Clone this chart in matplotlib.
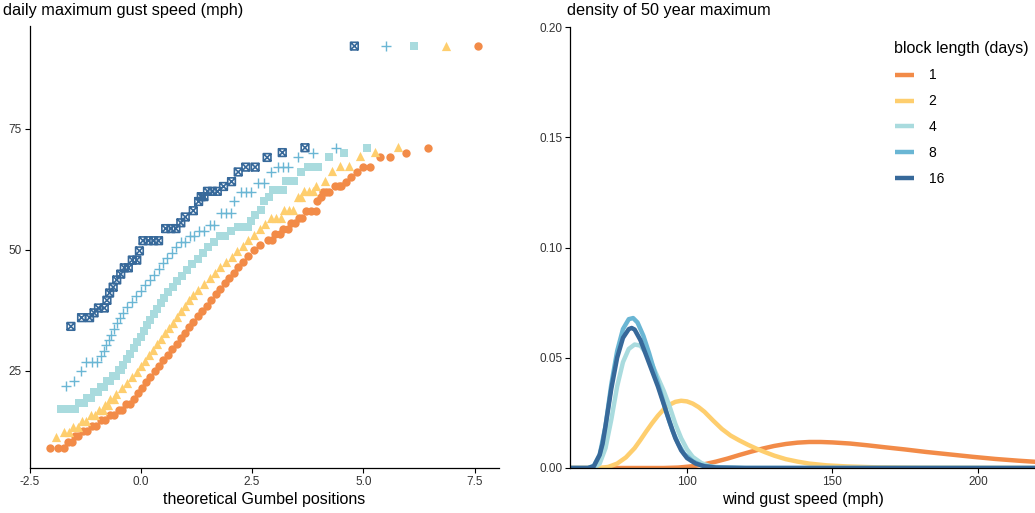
import matplotlib.pyplot as plt
from matplotlib.path import Path
from matplotlib.lines import Line2D
from matplotlib.ticker import FormatStrFormatter

plt.rcParams['font.family'] = ['Liberation Sans', 'DejaVu Sans']
plt.rcParams['axes.unicode_minus'] = False

block_labels = ["1", "2", "4", "8", "16"]
block_colors = ["#F28B48", "#FECE6E", "#A9DBDE", "#6AB6D4", "#37699A"]

# sorted daily maxima (mph) against their Gumbel plotting positions
gumbel_1 = [-2.03, -1.85, -1.72, -1.64, -1.55, -1.48, -1.40, -1.30, -1.20, -1.10, -1.00, -0.90, -0.80,
            -0.70, -0.60, -0.50, -0.42, -0.33, -0.25, -0.16, -0.06, 0.03, 0.12, 0.21, 0.31, 0.41, 0.51,
            0.61, 0.71, 0.81, 0.90, 1.00, 1.09, 1.18, 1.28, 1.38, 1.48, 1.58, 1.68, 1.79, 1.89, 1.99,
            2.09, 2.19, 2.30, 2.42, 2.55, 2.68, 2.85, 2.95, 3.02, 3.13, 3.20, 3.30, 3.38, 3.47, 3.55,
            3.62, 3.72, 3.83, 3.94, 3.97, 4.04, 4.10, 4.17, 4.24, 4.37, 4.45, 4.50, 4.62, 4.73, 4.86,
            5.00, 5.16, 5.37, 5.61, 5.95, 6.46, 7.57]
gust_1 = [9.1, 9.1, 9.1, 10.3, 10.3, 11.5, 11.5, 12.6, 12.6, 13.7, 13.7, 14.8, 14.8, 15.9, 15.9, 17.0,
          17.0, 18.2, 18.2, 19.3, 20.4, 21.5, 22.7, 23.8, 24.9, 26.1, 27.2, 28.3, 29.5, 30.6, 31.7, 32.9,
          34.0, 35.1, 36.3, 37.4, 38.5, 39.7, 40.8, 41.9, 43.1, 44.2, 45.3, 46.5, 47.6, 48.7, 49.9, 51.0,
          52.1, 52.1, 53.3, 53.3, 54.4, 54.4, 55.5, 55.5, 56.6, 56.6, 58.1, 58.1, 58.1, 60.1, 61.0, 62.0,
          62.0, 62.0, 63.1, 63.1, 63.1, 64.1, 65.1, 66.1, 67.1, 67.1, 69.1, 69.1, 70.1, 71.1, 92.1]

gumbel_2 = [-1.91, -1.73, -1.62, -1.52, -1.42, -1.32, -1.22, -1.12, -1.02, -0.93, -0.84, -0.80, -0.73,
            -0.68, -0.61, -0.55, -0.43, -0.31, -0.20, -0.09, 0.01, 0.10, 0.19, 0.28, 0.37, 0.45, 0.54,
            0.63, 0.72, 0.81, 0.90, 0.99, 1.08, 1.17, 1.29, 1.42, 1.55, 1.67, 1.79, 1.92, 2.05, 2.17,
            2.30, 2.42, 2.55, 2.68, 2.80, 2.93, 3.04, 3.15, 3.22, 3.32, 3.42, 3.53, 3.60, 3.67, 3.77,
            3.87, 3.94, 4.14, 4.30, 4.48, 4.67, 4.93, 5.26, 5.77, 6.85]
gust_2 = [11.3, 12.4, 12.4, 13.5, 13.5, 14.6, 14.6, 15.8, 15.8, 16.9, 16.9, 18.0, 18.0, 19.2, 19.2, 20.3,
          21.4, 22.6, 23.7, 24.8, 26.0, 27.1, 28.2, 29.4, 30.5, 31.6, 32.8, 33.9, 35.0, 36.2, 37.3, 38.4,
          39.6, 40.7, 41.8, 43.0, 44.1, 45.2, 46.4, 47.5, 48.6, 49.8, 50.9, 52.0, 53.1, 54.3, 55.4, 56.5,
          56.5, 56.5, 58.3, 58.3, 58.3, 61.0, 61.0, 62.2, 62.2, 62.2, 63.2, 64.3, 66.2, 67.4, 67.4, 69.3,
          70.3, 71.3, 92.1]

gumbel_4 = [-1.80, -1.62, -1.48, -1.38, -1.28, -1.20, -1.12, -1.05, -0.97, -0.90, -0.83, -0.76, -0.69,
            -0.62, -0.56, -0.50, -0.45, -0.40, -0.32, -0.24, -0.16, -0.08, 0.00, 0.07, 0.14, 0.21, 0.29,
            0.37, 0.45, 0.53, 0.62, 0.72, 0.82, 0.93, 1.04, 1.16, 1.28, 1.40, 1.52, 1.65, 1.78, 1.90,
            2.02, 2.18, 2.29, 2.40, 2.48, 2.56, 2.70, 2.78, 2.89, 2.97, 3.08, 3.19, 3.27, 3.36, 3.45,
            3.60, 3.75, 3.87, 3.98, 4.24, 4.56, 5.09, 6.15]
gust_4 = [17.1, 17.1, 17.1, 18.3, 18.3, 19.4, 19.4, 20.6, 20.6, 21.7, 21.7, 22.9, 22.9, 24.0, 24.0, 25.2,
          25.2, 26.3, 27.5, 28.6, 29.8, 30.9, 32.1, 33.2, 34.4, 35.5, 36.7, 37.8, 39.0, 40.1, 41.3, 42.4,
          43.6, 44.7, 45.9, 47.0, 48.2, 49.3, 50.5, 51.6, 52.8, 52.8, 53.9, 54.8, 54.8, 54.8, 56.0, 57.2,
          58.3, 60.0, 61.0, 62.3, 62.3, 62.3, 64.3, 64.3, 64.3, 66.1, 67.1, 67.1, 67.1, 69.1, 70.1, 71.1,
          92.1]

gumbel_8 = [-1.69, -1.50, -1.35, -1.22, -1.10, -0.98, -0.90, -0.83, -0.77, -0.71, -0.66, -0.60, -0.54,
            -0.47, -0.39, -0.30, -0.20, -0.10, 0.00, 0.10, 0.20, 0.30, 0.40, 0.50, 0.60, 0.70, 0.80,
            0.90, 1.00, 1.10, 1.20, 1.32, 1.43, 1.55, 1.65, 1.80, 1.92, 2.03, 2.10, 2.25, 2.37, 2.48,
            2.63, 2.78, 2.92, 3.08, 3.19, 3.30, 3.53, 3.88, 4.38, 5.50]
gust_8 = [21.9, 23.0, 24.9, 26.9, 26.9, 26.9, 28.0, 29.2, 30.3, 31.4, 32.5, 33.6, 34.8, 35.9, 37.0, 38.2,
          39.3, 40.4, 41.5, 42.7, 43.8, 44.9, 46.0, 47.2, 48.3, 49.4, 50.6, 51.7, 51.7, 52.8, 52.8, 54.0,
          54.0, 55.2, 55.2, 57.6, 57.6, 57.6, 60.2, 62.0, 62.0, 62.0, 63.9, 63.9, 66.0, 67.1, 67.1, 67.1,
          69.1, 70.1, 71.1, 92.1]

gumbel_16 = [-1.57, -1.33, -1.15, -1.05, -0.95, -0.82, -0.76, -0.70, -0.62, -0.54, -0.45, -0.37, -0.28,
             -0.19, -0.09, -0.03, 0.05, 0.17, 0.29, 0.40, 0.56, 0.68, 0.79, 0.90, 1.00, 1.18, 1.30,
             1.36, 1.42, 1.50, 1.61, 1.72, 1.86, 2.04, 2.19, 2.36, 2.57, 2.84, 3.18, 3.69, 4.80]
gust_16 = [34.2, 36.0, 36.0, 37.0, 38.0, 38.0, 39.6, 41.1, 42.3, 43.8, 45.0, 46.3, 46.3, 47.9, 47.9, 49.8,
           51.9, 51.9, 51.9, 51.9, 54.4, 54.4, 54.4, 55.6, 56.8, 58.1, 60.0, 61.0, 61.0, 62.1, 62.1, 62.1,
           63.1, 64.1, 66.1, 67.1, 67.1, 69.1, 70.1, 71.1, 92.1]

# density of the fitted 50-year maximum for each block length
speed_1 = [60, 92, 97, 102, 106, 110, 114, 118, 122, 126, 130, 134, 138, 142, 146, 150, 156, 162, 168,
           175, 182, 190, 198, 206, 214, 221]
dens_1 = [0, 0, 0.0002, 0.0008, 0.0017, 0.0029, 0.0043, 0.0059, 0.0074, 0.0088, 0.0100, 0.0109, 0.0115,
          0.0118, 0.0118, 0.0116, 0.0111, 0.0103, 0.0094, 0.0084, 0.0073, 0.0062, 0.0051, 0.0041, 0.0033,
          0.0027]
speed_2 = [60, 70, 73, 76, 79, 82, 84, 86, 88, 90, 92, 94, 96, 98, 100, 102, 104, 106, 109, 112, 115,
           118, 121, 124, 127, 130, 134, 138, 142, 148, 155, 165, 180, 221]
dens_2 = [0, 0, 0.0005, 0.002, 0.0048, 0.009, 0.0127, 0.0166, 0.0203, 0.0237, 0.0266, 0.0287, 0.0300,
          0.0305, 0.0302, 0.0292, 0.0276, 0.0255, 0.0215, 0.0177, 0.0147, 0.0125, 0.0105, 0.0087, 0.0071,
          0.0056, 0.0040, 0.0029, 0.0020, 0.0012, 0.0007, 0.0003, 0.0001, 0]
speed_4 = [60, 68, 70, 72, 74, 76, 78, 80, 82, 84, 86, 88, 90, 92, 94, 96, 98, 100, 102, 105, 108, 112,
           120, 221]
dens_4 = [0, 0, 0.002, 0.009, 0.022, 0.037, 0.048, 0.054, 0.056, 0.0555, 0.052, 0.047, 0.041, 0.035,
          0.028, 0.020, 0.0135, 0.0085, 0.005, 0.0022, 0.0008, 0.0002, 0, 0]
speed_8 = [60, 66, 68, 70, 72, 74, 76, 78, 80, 81.5, 83, 85, 87, 89, 91, 93, 95, 97, 99, 102, 105, 110,
           120, 221]
dens_8 = [0, 0, 0.001, 0.006, 0.019, 0.038, 0.053, 0.063, 0.0675, 0.068, 0.066, 0.060, 0.052, 0.043,
          0.034, 0.025, 0.017, 0.011, 0.0065, 0.003, 0.0012, 0.0002, 0, 0]
speed_16 = [60, 66, 68, 70, 71, 72, 74, 76, 78, 80, 81, 82, 84, 86, 88, 90, 92, 94, 96, 98, 100, 103,
            106, 110, 120, 221]
dens_16 = [0, 0, 0.0008, 0.006, 0.011, 0.019, 0.036, 0.050, 0.059, 0.063, 0.0635, 0.0628, 0.058, 0.051,
           0.044, 0.037, 0.029, 0.021, 0.0135, 0.008, 0.0045, 0.002, 0.0008, 0.0002, 0, 0]

# hollow square with a cross through it
square_cross = Path(
    [(-1, -1), (1, -1), (1, 1), (-1, 1), (-1, -1), (-1, -1), (1, 1), (-1, 1), (1, -1)],
    [Path.MOVETO, Path.LINETO, Path.LINETO, Path.LINETO, Path.CLOSEPOLY,
     Path.MOVETO, Path.LINETO, Path.MOVETO, Path.LINETO])

W, H = 1035, 513
fig = plt.figure(figsize=(W / 100, H / 100), dpi=100)
ax1 = fig.add_axes([29.5 / W, 1 - 468 / H, (499 - 29.5) / W, (468 - 26) / H])
ax2 = fig.add_axes([570 / W, 1 - 468 / H, (W - 570) / W, (468 - 27) / H])

ax1.scatter(gumbel_1, gust_1, marker="o", s=36, color=block_colors[0], linewidths=0, zorder=3)
ax1.scatter(gumbel_2, gust_2, marker="^", s=44, color=block_colors[1], linewidths=0, zorder=3)
ax1.scatter(gumbel_4, gust_4, marker="s", s=28, color=block_colors[2], linewidths=0, zorder=3)
ax1.scatter(gumbel_8, gust_8, marker="+", s=60, color=block_colors[3], linewidths=1.0, zorder=3)
ax1.scatter(gumbel_16, gust_16, marker=square_cross, s=30, facecolors="none",
            edgecolors=block_colors[4], linewidths=1.2, zorder=3)

ax1.set_xlim(-2.5, 8.05)
ax1.set_ylim(4.95, 96.25)
ax1.set_xticks([-2.5, 0.0, 2.5, 5.0, 7.5])
ax1.xaxis.set_major_formatter(FormatStrFormatter("%.1f"))
ax1.set_yticks([25, 50, 75])
ax1.set_xlabel("theoretical Gumbel positions", fontsize=11.5, labelpad=3)

speeds = [speed_1, speed_2, speed_4, speed_8, speed_16]
dens = [dens_1, dens_2, dens_4, dens_8, dens_16]
handles = []
for sp, dn, col in zip(speeds, dens, block_colors):
    ax2.plot(sp, dn, color=col, lw=3.2, solid_capstyle="butt")
    handles.append(Line2D([], [], color=col, lw=3.2, solid_capstyle="butt"))

ax2.set_xlim(59.8, 219.6)
ax2.set_ylim(0, 0.2)
ax2.set_xticks([100, 150, 200])
ax2.set_yticks([0, 0.05, 0.10, 0.15, 0.20])
ax2.yaxis.set_major_formatter(FormatStrFormatter("%.2f"))
ax2.set_xlabel("wind gust speed (mph)", fontsize=11.5, labelpad=3)

ax2.legend(handles, block_labels, title="block length (days)", frameon=False,
           loc="upper left", bbox_to_anchor=(882 / W, 1 - 29 / H),
           bbox_transform=fig.transFigure, fontsize=10, title_fontsize=11.5,
           handlelength=1.4, handletextpad=1.05, labelspacing=0.86, alignment="left")

for ax in (ax1, ax2):
    for side in ("top", "right"):
        ax.spines[side].set_visible(False)
    for side in ("left", "bottom"):
        ax.spines[side].set_linewidth(0.9)
        ax.spines[side].set_color("black")
    ax.tick_params(length=3.5, width=0.8, colors="black", labelsize=8.5, labelcolor="#333333", pad=2)

fig.text(3 / W, 1 - 10 / H, "daily maximum gust speed (mph)", fontsize=11.7, va="center", ha="left")
fig.text(567 / W, 1 - 10 / H, "density of 50 year maximum", fontsize=11.7, va="center", ha="left")

fig.savefig("out.png", dpi=100)
